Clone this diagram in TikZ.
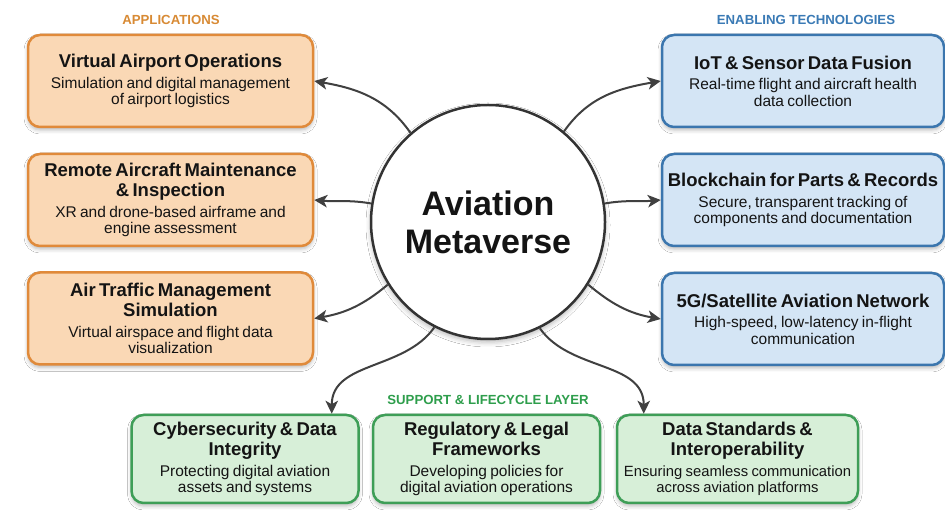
\documentclass[tikz,border=0pt]{standalone}
\usepackage{fontspec}
\setmainfont{Liberation Sans}
\usetikzlibrary{arrows.meta,shadows.blur}

\definecolor{appfill}{HTML}{FAD8B5}
\definecolor{appline}{HTML}{E08A3A}
\definecolor{appword}{HTML}{D88A34}
\definecolor{techfill}{HTML}{D4E5F5}
\definecolor{techline}{HTML}{3B76AE}
\definecolor{techword}{HTML}{3A7AB5}
\definecolor{supfill}{HTML}{D7EFD8}
\definecolor{supline}{HTML}{3E9E57}
\definecolor{supword}{HTML}{2E9E4C}
\definecolor{linkc}{HTML}{404040}
\definecolor{ringc}{HTML}{333333}
\definecolor{inkc}{HTML}{141414}

% heading and description lines inside a box
\newcommand\boxhead[1]{{\fontsize{18.5}{20}\selectfont\bfseries #1\par}\vspace{4pt}}
\newcommand\boxsub[1]{{\fontsize{15.5}{16.5}\selectfont #1\par}}

\tikzset{
  card/.style={rectangle, rounded corners=12pt, line width=2.5pt, inner sep=0pt,
    align=center, text=inkc,
    blur shadow={shadow xshift=0pt, shadow yshift=-3pt, shadow blur radius=4pt, shadow opacity=28}},
  appcard/.style={card, draw=appline, fill=appfill, minimum width=285pt, minimum height=92pt, text width=283pt},
  techcard/.style={card, draw=techline, fill=techfill, minimum width=282pt, minimum height=92pt, text width=280pt},
  supcard/.style={card, draw=supline, fill=supfill, minimum width=227pt, minimum height=88pt, text width=224pt},
  grouptitle/.style={font=\fontsize{13.2}{15}\selectfont\bfseries},
  link/.style={draw=linkc, line width=2pt, -{Stealth[length=13pt,width=12.5pt,inset=3.5pt]}}
}

\begin{document}
\begin{tikzpicture}[x=1pt,y=1pt]
\useasboundingbox (0,0) rectangle (945,511);
\fill[white] (0,0) rectangle (945,511);

% group headings
\node[grouptitle, text=appword] (happ) at (171,491) {APPLICATIONS};
\node[grouptitle, text=techword] (htech) at (806,491) {ENABLING TECHNOLOGIES};
\node[grouptitle, text=supword] (hsup) at (488,111) {SUPPORT \& LIFECYCLE LAYER};

% central hub
\node[circle, draw=ringc, line width=2.5pt, fill=white, minimum size=234pt, inner sep=0pt,
      align=center, text=inkc, font=\fontsize{34}{38}\selectfont\bfseries,
      blur shadow={shadow xshift=0pt, shadow yshift=-3pt, shadow blur radius=5pt, shadow opacity=30}]
  (hub) at (488,289) {Aviation\\Metaverse};

% applications
\node[appcard] (a1) at (170.5,430) {\boxhead{Virtual Airport Operations}\boxsub{Simulation and digital management\\of airport logistics}};
\node[appcard] (a2) at (170.5,311) {\boxhead{Remote Aircraft Maintenance\\\& Inspection}\boxsub{XR and drone-based airframe and\\engine assessment}};
\node[appcard] (a3) at (170.5,192.5) {\boxhead{Air Traffic Management\\Simulation}\boxsub{Virtual airspace and flight data\\visualization}};

% enabling technologies
\node[techcard] (t1) at (803,430) {\boxhead{IoT \& Sensor Data Fusion}\boxsub{Real-time flight and aircraft health\\data collection}};
\node[techcard] (t2) at (803,311) {\boxhead{Blockchain for Parts \& Records}\boxsub{Secure, transparent tracking of\\components and documentation}};
\node[techcard] (t3) at (803,192) {\boxhead{5G/Satellite Aviation Network}\boxsub{High-speed, low-latency in-flight\\communication}};

% support and lifecycle layer
\node[supcard] (s1) at (245,52) {\boxhead{Cybersecurity \& Data\\Integrity}\boxsub{Protecting digital aviation\\assets and systems}};
\node[supcard] (s2) at (486.5,52) {\boxhead{Regulatory \& Legal\\Frameworks}\boxsub{Developing policies for\\digital aviation operations}};
\node[supcard, minimum width=241pt, text width=238pt] (s3) at (737.5,52) {\boxhead{Data Standards \&\\Interoperability}{\fontsize{14.8}{16.5}\selectfont Ensuring seamless communication\\across aviation platforms\par}};

% connectors from the hub
\draw[link] (hub.131) to[out=125,in=-10] (a1.east);
\draw[link] (hub.171) to[out=170,in=-5] (a2.east);
\draw[link] (hub.212) to[out=220,in=10] (a3.east);
\draw[link] (hub.50) to[out=55,in=190] (t1.west);
\draw[link] (hub.9) to[out=10,in=185] (t2.west);
\draw[link] (hub.328) to[out=-40,in=170] (t3.west);
\draw[link] (hub.243) to[out=235,in=90] ([xshift=-28pt]s1.north east);
\draw[link] (hub.296) to[out=-55,in=90] ([xshift=28pt]s3.north west);
\end{tikzpicture}
\end{document}
